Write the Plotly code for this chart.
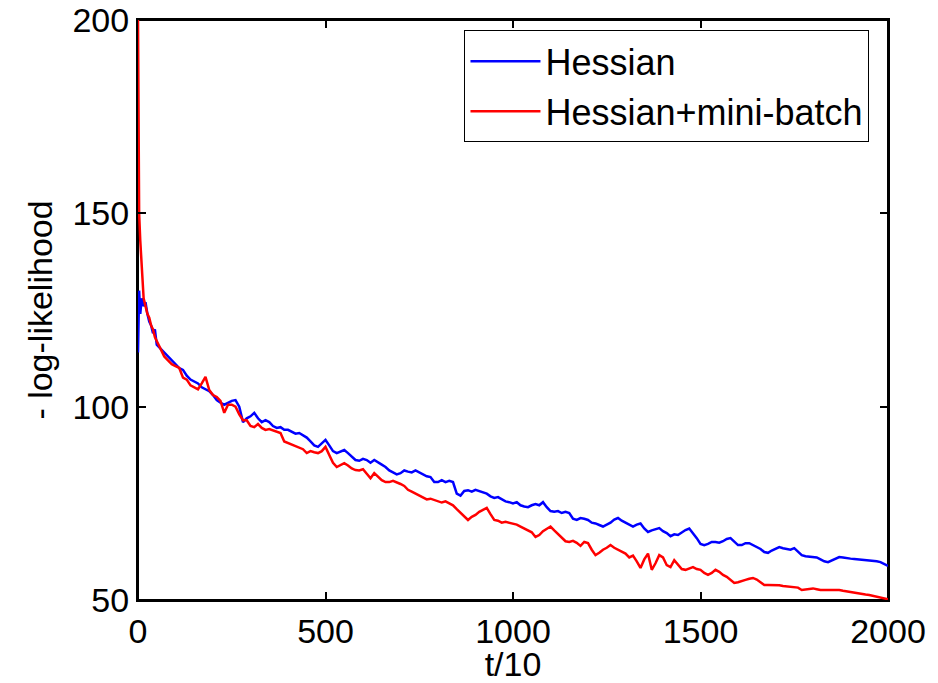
import plotly.graph_objects as go

t = [0, 3, 6, 10, 15, 20, 25, 30, 35, 40, 45, 50] + list(range(60, 2001, 10))

hessian = [114, 130, 124, 128, 126, 127, 124, 122, 121, 119, 120, 116,
           115, 114, 113, 112, 111, 110, 109.5, 108, 107, 106.5, 106, 105, 104.5, 104, 103,
           101.7, 101, 100.5, 101, 101.5, 101.7, 100, 96, 97, 97.5,
           98.4, 97, 96, 96.5, 96, 95, 94.5, 94.7, 94, 94,
           93.5, 93, 93.2, 92.5, 92, 91, 90, 89.6, 90.5, 91.4,
           90, 88.5, 88, 88.5, 88.8, 88, 87, 86.2, 86, 86.5,
           86.2, 85.5, 86.2, 85.5, 85, 84.4, 83.5, 83, 82.5, 82.8,
           83.5, 83.2, 83, 83.5, 83, 82.5, 82, 81.8, 80.5, 80.5,
           81, 80.5, 80.8, 80.5, 77.5, 77, 78.2, 78.4, 78, 78.5,
           78.2, 78, 77.5, 76.8, 76.4, 76.6, 76, 75.5, 75.3, 75,
           75.3, 74.5, 74.2, 74, 74.5, 74.8, 74.5, 75.3, 74, 73,
           72.8, 73, 72.5, 72.8, 72.5, 71, 70.7, 71.2, 71, 70.7,
           70, 69.8, 69.4, 69, 69.5, 70, 70.8, 71.2, 70.5, 70,
           69.4, 69, 69.5, 69.8, 68.5, 67.6, 68, 68.3, 68.6, 67.8,
           67.3, 66.5, 67, 66.8, 67.5, 68.1, 68.5, 67.3, 66, 64.5,
           64.2, 64.5, 65, 65, 64.8, 65.2, 65.8, 66, 65, 64.2,
           64.2, 64.7, 64.7, 64.2, 63.7, 63.2, 62.4, 62.2, 62.8, 63.2,
           63.7, 63.4, 63.2, 63, 63.4, 62.5, 61.6, 61.3, 61.2, 61.1,
           61, 60.5, 60, 59.8, 60.2, 60.8, 61.1, 61, 60.8, 60.7,
           60.6, 60.5, 60.4, 60.3, 60.3, 60.2, 60, 59.8, 59.3, 58.8]

minibatch = [200, 150, 143, 136, 128, 126, 124, 123, 121, 120, 118, 117,
             115, 113, 112, 111, 110.5, 110, 107.5, 107, 105.5, 105, 104.5, 106, 107.7, 104.3, 103,
             102.5, 101.5, 98.4, 100.5, 100.5, 100, 98, 96.5, 96.5, 95,
             94.7, 95.5, 94.5, 94, 94.2, 93.8, 93.5, 93.2, 91, 90.6,
             90.4, 90, 89.6, 89, 88, 88.5, 88.2, 88, 88.5, 89.6,
             87.5, 85.5, 84.4, 85, 85.4, 84.8, 84, 83.6, 83.5, 83.8,
             82.5, 81.5, 82.8, 82, 81, 80.5, 80.5, 80.8, 80.5, 80,
             79.5, 78.5, 78, 77.5, 77, 76.5, 76, 76.2, 75.9, 75.5,
             75.2, 75.5, 75, 74.5, 73.5, 72.5, 71.5, 70.7, 71.5, 72,
             72.8, 73.3, 73.8, 72.2, 70.7, 70.5, 70, 70.2, 70, 69.8,
             69.5, 69, 68.5, 68, 67.5, 66.3, 66.8, 67.8, 68.5, 69,
             68, 67, 66, 65.2, 65, 65.3, 64.8, 64, 65, 64.7,
             63, 61.6, 62.2, 63, 63.5, 64.2, 63.5, 63, 62.5, 62,
             61, 61.5, 60, 58.3, 60.5, 62, 57.8, 59.5, 61.6, 61,
             59, 58.5, 60.3, 59, 58, 57.8, 58.2, 58.5, 58, 57.8,
             57, 56.5, 57, 57.8, 57.3, 56.5, 56, 55.2, 54.4, 54.6,
             55, 55.2, 55.5, 55.7, 55.3, 54.5, 53.9, 53.9, 53.9, 53.9,
             53.8, 53.6, 53.5, 53.4, 53.4, 53.2, 52.6, 52.7, 52.9, 53,
             52.8, 52.6, 52.6, 52.6, 52.5, 52.6, 52.6, 52.4, 52.2, 52.1,
             52, 51.8, 51.6, 51.4, 51.3, 51.1, 50.8, 50.6, 50.4, 50.2]

x_ticks = [0, 500, 1000, 1500, 2000]
y_ticks = [50, 100, 150, 200]

FONT = "Liberation Sans"

fig = go.Figure()
fig.add_trace(go.Scatter(x=t, y=hessian, mode="lines", name="Hessian",
                         line=dict(color="#0000FF", width=2.5), cliponaxis=False))
fig.add_trace(go.Scatter(x=t, y=minibatch, mode="lines", name="Hessian+mini-batch",
                         line=dict(color="#FF0000", width=2.5), cliponaxis=False))

axis_common = dict(showline=True, linecolor="black", linewidth=2, mirror="ticks",
                   ticks="inside", ticklen=8, tickwidth=1.5, tickcolor="black",
                   showgrid=False, zeroline=False, automargin=False,
                   ticklabeloverflow="allow",
                   tickfont=dict(family=FONT, size=34, color="black"))

fig.update_xaxes(range=[0, 2000], tickvals=x_ticks, ticktext=[str(v) for v in x_ticks],
                 title=dict(text="t/10", font=dict(family=FONT, size=34, color="black"), standoff=0),
                 **axis_common)
fig.update_yaxes(range=[50, 200], tickvals=y_ticks, ticktext=[str(v) for v in y_ticks],
                 title=dict(text="- log-likelihood", font=dict(family=FONT, size=34, color="black"), standoff=10),
                 **axis_common)

# axes frame (box around the plotting area), drawn beneath the curves
fig.add_shape(type="rect", xref="paper", yref="paper", x0=0, x1=1, y0=0, y1=1,
              line=dict(color="black", width=2), fillcolor="rgba(0,0,0,0)", layer="below")

fig.update_layout(
    width=930, height=675,
    margin=dict(l=130, r=50, t=12, b=83),
    paper_bgcolor="white", plot_bgcolor="white",
    font=dict(family=FONT, size=34, color="black"),
    legend=dict(x=0.9753, y=0.982, xanchor="right", yanchor="top",
                bgcolor="white", bordercolor="black", borderwidth=1,
                font=dict(family=FONT, size=36, color="black"),
                itemwidth=70, tracegroupgap=0),
    showlegend=True,
)

fig.write_html("out.html")
